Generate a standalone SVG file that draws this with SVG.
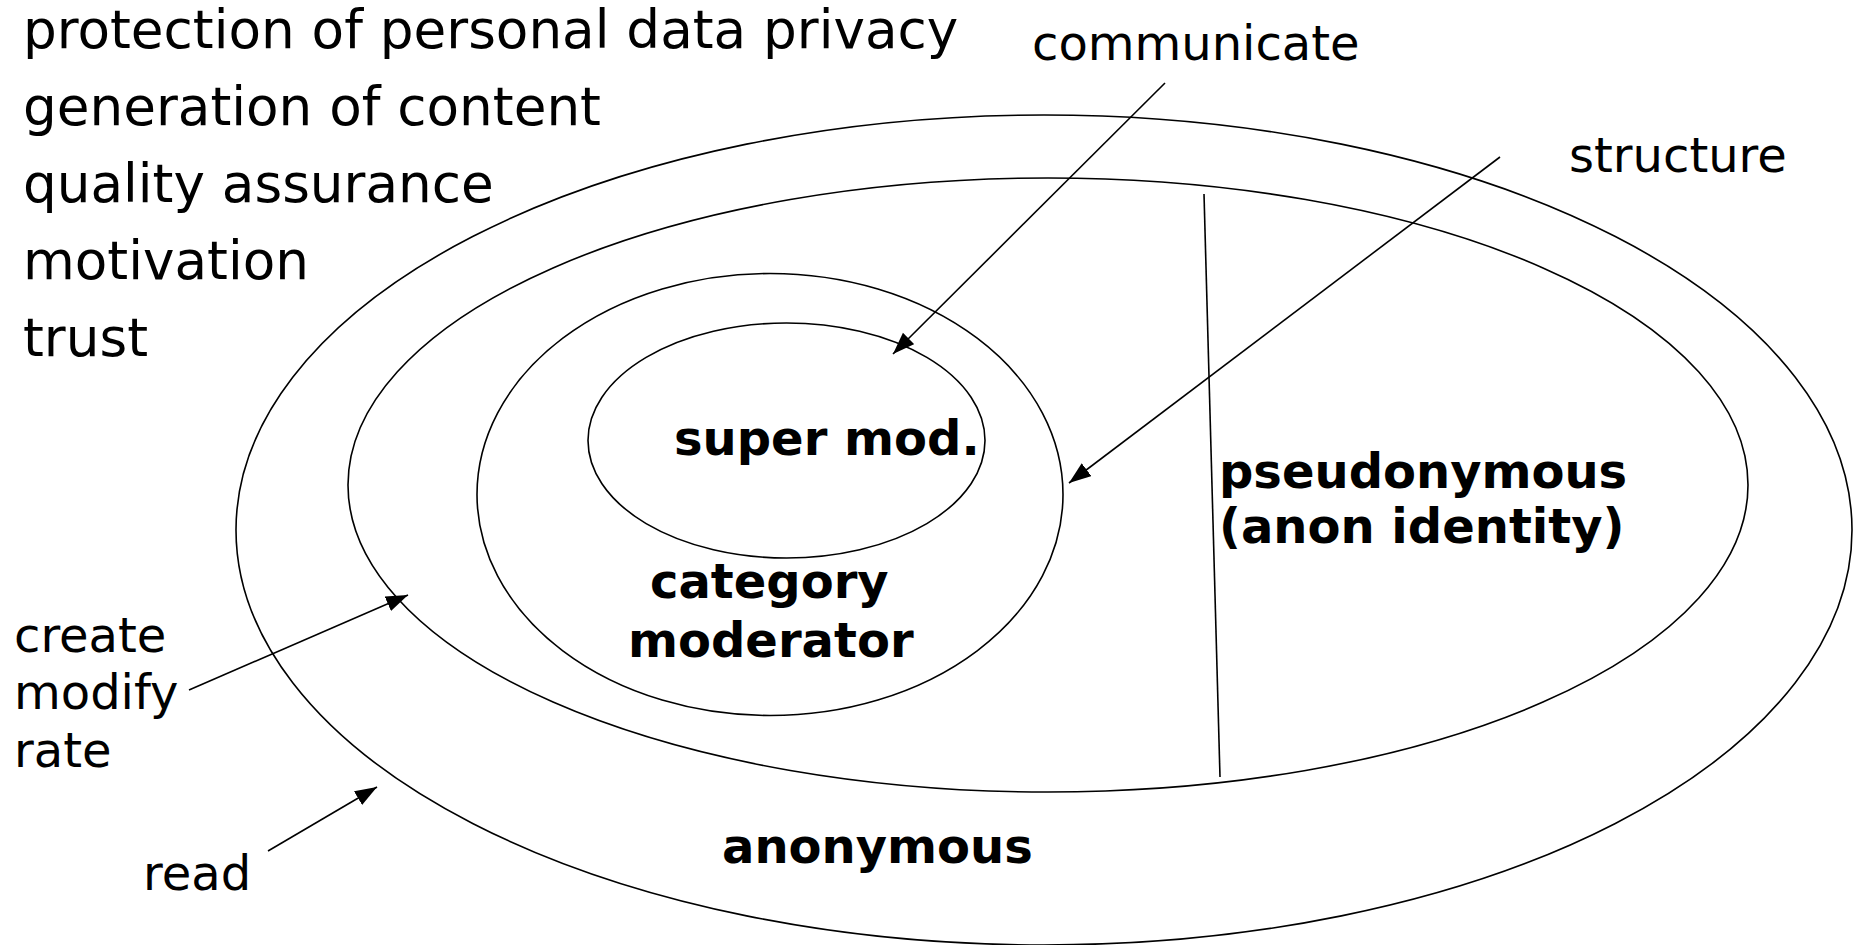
<svg xmlns="http://www.w3.org/2000/svg" width="1862" height="945" viewBox="0 0 1862 945">
<style>
.bg{fill:#ffffff}
.ring{fill:none;stroke:#000;stroke-width:1.6}
.ln{fill:none;stroke:#000;stroke-width:1.6}
.t{font-family:"DejaVu Sans","Verdana",sans-serif;fill:#000}
.list{font-size:53.2px}
.lab{font-size:48px}
.b{font-size:48px;font-weight:bold}
</style>
<defs>
<marker id="ah" markerUnits="userSpaceOnUse" markerWidth="24" markerHeight="18" refX="22" refY="8" orient="auto">
<path d="M0,0 L22,8 L0,16 Z" fill="#000"/>
</marker>
</defs>
<rect class="bg" x="0" y="0" width="1862" height="945"/>
<g id="anonymous">
<ellipse class="ring" cx="1044" cy="530" rx="808" ry="415"/>
<text class="t b" x="722" y="863">anonymous</text>
</g>
<g id="pseudonymous">
<ellipse class="ring" cx="1048" cy="485" rx="700" ry="307"/>
<text class="t b" x="1219" y="488">pseudonymous</text>
<text class="t b" x="1219" y="543">(anon identity)</text>
</g>
<g id="category-moderator">
<ellipse class="ring" cx="770" cy="494.5" rx="293" ry="221"/>
<text class="t b" x="650" y="598">category</text>
<text class="t b" x="628" y="657">moderator</text>
</g>
<g id="super-mod">
<ellipse class="ring" cx="786.5" cy="440.5" rx="198.5" ry="117.5"/>
<text class="t b" x="674" y="455">super mod.</text>
</g>
<g id="concerns">
<text class="t list" x="23" y="48">protection of personal data privacy</text>
<text class="t list" x="23" y="125">generation of content</text>
<text class="t list" x="23" y="202">quality assurance</text>
<text class="t list" x="23" y="279">motivation</text>
<text class="t list" x="23" y="356">trust</text>
</g>
<g id="label-communicate"><text class="t lab" x="1032" y="60">communicate</text></g>
<g id="label-structure"><text class="t lab" x="1569" y="172">structure</text></g>
<g id="label-create">
<text class="t lab" x="14" y="652">create</text>
<text class="t lab" x="14" y="709">modify</text>
<text class="t lab" x="14" y="767">rate</text>
</g>
<g id="label-read"><text class="t lab" x="143" y="890">read</text></g>
<g id="connectors">
<line class="ln" x1="1204" y1="194" x2="1220" y2="777"/>
<line class="ln" x1="1165" y1="83" x2="893" y2="354" marker-end="url(#ah)"/>
<line class="ln" x1="1500" y1="157" x2="1069" y2="483" marker-end="url(#ah)"/>
<line class="ln" x1="189" y1="690" x2="408" y2="595" marker-end="url(#ah)"/>
<line class="ln" x1="268" y1="851" x2="377" y2="787" marker-end="url(#ah)"/>
</g>
</svg>
